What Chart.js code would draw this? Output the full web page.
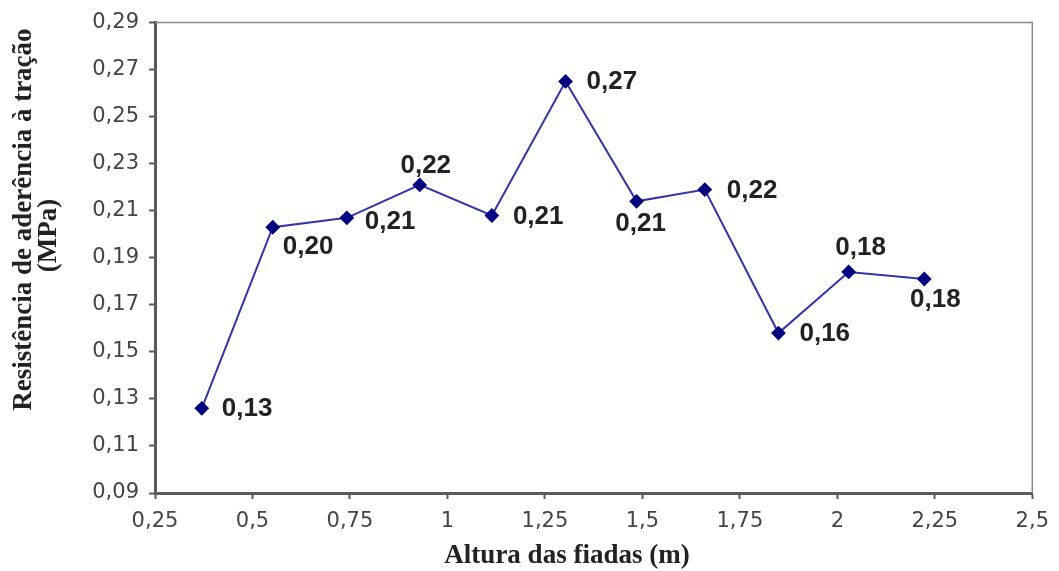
<!DOCTYPE html>
<html>
<head>
<meta charset="utf-8">
<script src="https://cdn.jsdelivr.net/npm/chart.js@4/dist/chart.umd.min.js"></script>
<style>
  html,body{margin:0;padding:0;background:#fff;}
  #wrap{width:1059px;height:571px;position:relative;}
</style>
</head>
<body>
<div id="wrap"><canvas id="grafico"></canvas></div>
<script>
// altura das fiadas (m) x resistência de aderência (MPa)
const altura = [0.37, 0.552, 0.742, 0.929, 1.114, 1.303, 1.485, 1.66, 1.849, 2.029, 2.223];
const resistencia = [0.126, 0.203, 0.207, 0.221, 0.208, 0.265, 0.214, 0.219, 0.158, 0.184, 0.181];
const xTicks = [0.25, 0.5, 0.75, 1, 1.25, 1.5, 1.75, 2, 2.25, 2.5];
const yTicks = [0.09, 0.11, 0.13, 0.15, 0.17, 0.19, 0.21, 0.23, 0.25, 0.27, 0.29];
const tituloX = 'Altura das fiadas (m)';
const tituloY = ['Resistência de aderência à tração', '(MPa)'];

// deslocamento de cada rótulo em relação ao ponto [dx, dy, alinhamento]
const posRotulo = [
  [20, 0, 'left'], [10, 19, 'left'], [18, 3, 'left'], [6, -20, 'center'],
  [21, 0, 'left'], [21, -1, 'left'], [4, 21, 'center'], [22, 0, 'left'],
  [21, 0, 'left'], [12, -25, 'center'], [11, 20, 'center']
];

const virgula = (v, d) => v.toFixed(d).replace('.', ',');
const tickX = v => String(+v.toFixed(2)).replace('.', ',');

const AZUL = '#3434a4', MARINHO = '#000080', EIXO = '#5a5a5a';

const rotulos = {
  id: 'rotulos',
  afterDatasetsDraw(chart) {
    const ctx = chart.ctx;
    const pts = chart.getDatasetMeta(0).data;
    ctx.save();
    ctx.font = 'bold 26px "Liberation Sans"';
    ctx.fillStyle = '#222';
    ctx.textBaseline = 'middle';
    pts.forEach((p, i) => {
      const [dx, dy, al] = posRotulo[i];
      ctx.textAlign = al;
      ctx.fillText(virgula(Math.round(resistencia[i] * 100) / 100, 2), p.x + dx, p.y + dy + 1);
    });
    ctx.restore();
  }
};

// moldura fina no topo e à direita + títulos dos eixos
const moldura = {
  id: 'moldura',
  beforeDatasetsDraw(chart) {
    const a = chart.chartArea, ctx = chart.ctx;
    ctx.save();
    ctx.strokeStyle = '#8a8a8a';
    ctx.lineWidth = 1.5;
    ctx.beginPath();
    ctx.moveTo(a.left, a.top);
    ctx.lineTo(a.right, a.top);
    ctx.lineTo(a.right, a.bottom);
    ctx.stroke();

    ctx.fillStyle = '#222';
    ctx.textAlign = 'center';
    ctx.textBaseline = 'middle';
    ctx.font = 'bold 27px "Liberation Serif"';
    ctx.fillText(tituloX, a.left + 412, a.bottom + 63);

    ctx.translate(a.left - 131, a.top + 197);
    ctx.rotate(-Math.PI / 2);
    ctx.fillText(tituloY[0], 0, 0);
    ctx.fillText(tituloY[1], -16, 25);
    ctx.restore();
  }
};

new Chart(document.getElementById('grafico'), {
  type: 'line',
  data: {
    datasets: [{
      data: altura.map((x, i) => ({ x, y: resistencia[i] })),
      borderColor: AZUL,
      borderWidth: 2,
      backgroundColor: MARINHO,
      pointBackgroundColor: MARINHO,
      pointBorderColor: MARINHO,
      pointStyle: 'rectRot',
      pointRadius: 6,
      tension: 0,
      fill: false
    }]
  },
  options: {
    responsive: true,
    maintainAspectRatio: false,
    animation: false,
    layout: { padding: { top: 20, right: 26, left: 0, bottom: 0 } },
    plugins: { legend: { display: false }, tooltip: { enabled: false } },
    scales: {
      x: {
        type: 'linear', min: 0.25, max: 2.5,
        afterBuildTicks: s => { s.ticks = xTicks.map(value => ({ value })); },
        afterFit: s => { s.height = 78; },
        border: { color: EIXO, width: 3 },
        grid: { drawOnChartArea: false, drawTicks: true, tickLength: 6, color: EIXO, tickWidth: 2 },
        ticks: { callback: tickX, color: '#444', font: { family: 'DejaVu Sans', size: 21 }, padding: 10, maxRotation: 0 }
      },
      y: {
        type: 'linear', min: 0.09, max: 0.29,
        afterBuildTicks: s => { s.ticks = yTicks.map(value => ({ value })); },
        afterFit: s => { s.width = 155; },
        border: { color: EIXO, width: 3 },
        grid: { drawOnChartArea: false, drawTicks: true, tickLength: 6, color: EIXO, tickWidth: 2 },
        ticks: { callback: v => virgula(v, 2), color: '#444', font: { family: 'DejaVu Sans', size: 21 }, padding: 10 }
      }
    }
  },
  plugins: [moldura, rotulos]
});
</script>
</body>
</html>
